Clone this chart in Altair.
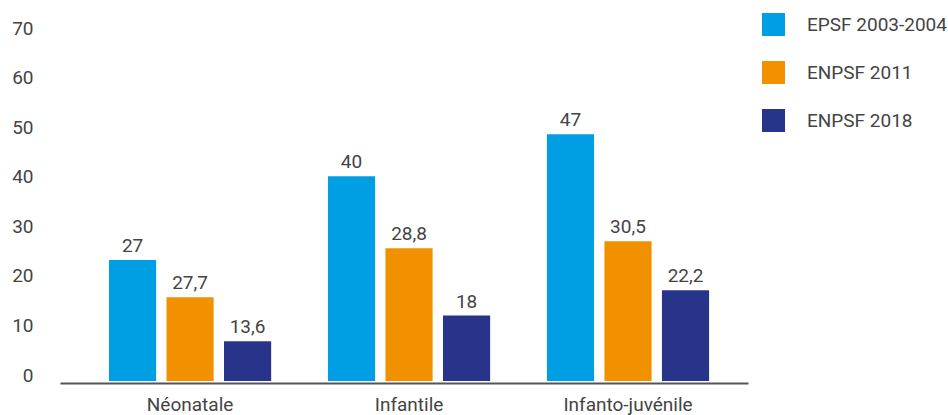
import altair as alt
import pandas as pd

categories = ["Néonatale", "Infantile", "Infanto-juvénile"]
series = ["EPSF 2003-2004", "ENPSF 2011", "ENPSF 2018"]
colors = ["#009FE3", "#F29100", "#28348A"]

bars_epsf = [24.4, 41.3, 49.8]
bars_2011 = [16.9, 26.8, 28.2]
bars_2018 = [8.0, 13.2, 18.3]

# printed labels above bars
labels_epsf = ["27", "40", "47"]
labels_2011 = ["27,7", "28,8", "30,5"]
labels_2018 = ["13,6", "18", "22,2"]

y_ticks = [0, 10, 20, 30, 40, 50, 60, 70]

rows = []
for s, vals, labs in zip(series, [bars_epsf, bars_2011, bars_2018],
                         [labels_epsf, labels_2011, labels_2018]):
    for c, v, l in zip(categories, vals, labs):
        rows.append({"cat": c, "series": s, "value": v, "label": l})
df = pd.DataFrame(rows)

FONT = "Roboto"
TXT = "#444444"
FS = 19

x = alt.X("cat:N", sort=categories, title=None,
          scale=alt.Scale(paddingInner=0.212, paddingOuter=0.177, align=0.565),
          axis=alt.Axis(labelAngle=0, ticks=False, domain=True, domainColor="#555555",
                        domainWidth=2, offset=2, labelPadding=12, labelFontSize=FS,
                        labelColor=TXT, labelFont=FONT))
xo = alt.XOffset("series:N", sort=series,
                 scale=alt.Scale(paddingInner=0.18, paddingOuter=0.09))
y = alt.Y("value:Q", title=None,
          scale=alt.Scale(domain=[0, 70], nice=False),
          axis=alt.Axis(values=y_ticks, grid=False, ticks=False, domain=False,
                        labelPadding=27, labelFontSize=FS, labelColor=TXT,
                        labelFont=FONT, labelOffset=-6))
color = alt.Color("series:N", sort=series,
                  scale=alt.Scale(domain=series, range=colors),
                  legend=alt.Legend(title=None, orient="none", legendX=702, legendY=-21,
                                    symbolType="square", symbolSize=529,
                                    symbolStrokeWidth=0, labelFontSize=FS,
                                    labelColor=TXT, labelFont=FONT, labelOffset=22,
                                    rowPadding=25, labelLimit=200))

bars = alt.Chart(df).mark_bar(opacity=1).encode(x=x, xOffset=xo, y=y, color=color)
text = alt.Chart(df).mark_text(baseline="alphabetic", dy=-8, fontSize=FS,
                               font=FONT, color=TXT).encode(
    x=alt.X("cat:N", sort=categories),
    xOffset=alt.XOffset("series:N", sort=series),
    y="value:Q", text="label:N")

chart = alt.layer(bars, text).properties(
    width=688, height=347,
    autosize=alt.AutoSizeParams(type="none"),
    padding={"left": 60, "top": 34, "right": 200, "bottom": 34},
    background="white",
).configure_view(stroke=None)

chart.save("out.html", embed_options={"renderer": "svg", "actions": False})
